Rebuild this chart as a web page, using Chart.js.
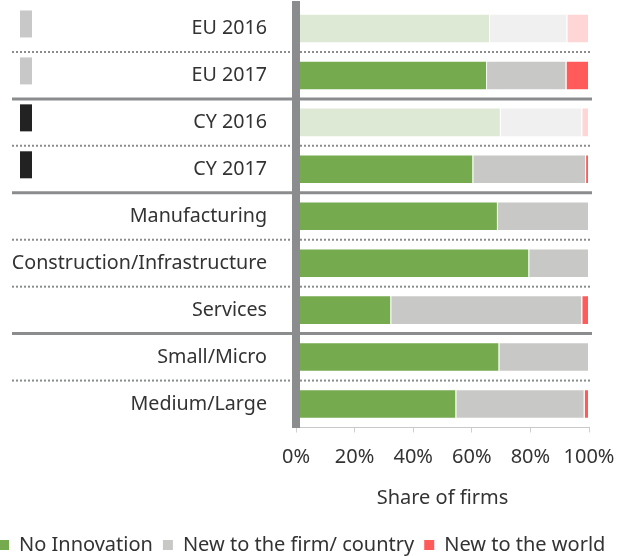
<!DOCTYPE html>
<html>
<head>
<meta charset="utf-8">
<script src="https://cdn.jsdelivr.net/npm/chart.js@4/dist/chart.umd.min.js"></script>
<style>
  html, body { margin: 0; padding: 0; background: #fff; }
  #wrap { width: 630px; height: 556px; }
</style>
</head>
<body>
<div id="wrap"><canvas id="myChart"></canvas></div>
<script>
// data (share of firms, %)
const categories = ['EU 2016', 'EU 2017', 'CY 2016', 'CY 2017', 'Manufacturing',
  'Construction/Infrastructure', 'Services', 'Small/Micro', 'Medium/Large'];
const noInnovation = [66.2, 65.2, 69.9, 60.5, 68.9, 79.6, 32.5, 69.4, 54.7];
const newToFirm = [26.4, 27.1, 27.8, 38.5, 31.1, 20.4, 65.2, 30.6, 43.8];
const newToWorld = [7.4, 7.7, 2.3, 1.0, 0, 0, 2.3, 0, 1.5];
const seriesNames = ['No Innovation', 'New to the firm/ country', 'New to the world'];
// 2016 rows are drawn faded
const faded = [true, false, true, false, false, false, false, false, false];
// little tag on the left of EU / CY rows
const rowTags = ['#c8c8c8', '#c8c8c8', '#222222', '#222222', null, null, null, null, null];
// row index after which a solid group line is drawn (dotted otherwise)
const groupEnds = [1, 3, 6];

const fullColors = ['#75aa4f', '#c8c8c6', '#ff5b5b'];
const fadedColors = ['#dde9d4', '#f0f0f0', '#ffd6d6'];
const FONT = 'Noto Sans';
const TEXT = '#333333';

function colorsFor(i) {
  return faded.map(f => f ? fadedColors[i] : fullColors[i]);
}

const separators = {
  id: 'separators',
  afterLayout(chart) {
    // legend in the original sits flush with the left edge
    if (chart.legend) {
      chart.legend.left -= 11;
      chart.legend.right -= 11;
    }
  },
  afterDatasetsDraw(chart) {
    const ctx = chart.ctx;
    const y = chart.scales.y;
    const right = chart.chartArea.right + 3;
    ctx.save();
    for (let i = 0; i < categories.length - 1; i++) {
      const yy = (y.getPixelForValue(i) + y.getPixelForValue(i + 1)) / 2;
      ctx.beginPath();
      if (groupEnds.includes(i)) {
        ctx.setLineDash([]);
        ctx.lineWidth = 3;
      } else {
        ctx.setLineDash([2, 2]);
        ctx.lineWidth = 2;
      }
      ctx.strokeStyle = '#8a8c8e';
      ctx.moveTo(12, yy);
      ctx.lineTo(right, yy);
      ctx.stroke();
    }
    ctx.setLineDash([]);
    rowTags.forEach((c, i) => {
      if (!c) return;
      const cy = y.getPixelForValue(i);
      ctx.fillStyle = c;
      ctx.fillRect(20, cy - 18, 12, 27);
    });
    ctx.restore();
  }
};

const ctx = document.getElementById('myChart').getContext('2d');

new Chart(ctx, {
  type: 'bar',
  data: {
    labels: categories,
    datasets: [noInnovation, newToFirm, newToWorld].map((d, i) => ({
      label: seriesNames[i],
      data: d,
      backgroundColor: colorsFor(i),
      borderColor: '#ffffff',
      borderWidth: 1,
      categoryPercentage: 1,
      barPercentage: 0.63,
    })),
  },
  options: {
    indexAxis: 'y',
    responsive: true,
    maintainAspectRatio: false,
    animation: false,
    layout: { padding: { top: 5, right: 0, left: 0, bottom: -9 } },
    scales: {
      x: {
        stacked: true,
        min: 0,
        max: 100,
        ticks: {
          stepSize: 20,
          padding: 13,
          color: TEXT,
          font: { family: FONT, size: 20 },
          callback: v => v + '%',
        },
        grid: { drawOnChartArea: false, drawTicks: true, tickLength: 5, color: '#cfcfcf' },
        border: { color: '#c8c8c8', width: 1 },
        title: {
          display: true,
          text: 'Share of firms',
          color: TEXT,
          font: { family: FONT, size: 20 },
          padding: { top: 0, bottom: 15 },
        },
        afterFit: scale => {
          scale.height = 97.5;
          scale.paddingLeft = 0;
          scale.paddingRight = 41;
        },
      },
      y: {
        stacked: true,
        ticks: {
          padding: -7,
          color: TEXT,
          font: { family: FONT, size: 19.7 },
        },
        grid: { display: false, drawTicks: true, tickLength: 36 },
        border: { color: '#8a8c8e', width: 8, z: 1 },
        afterFit: scale => { scale.width = 296; },
      },
    },
    plugins: {
      legend: {
        position: 'bottom',
        align: 'start',
        labels: {
          boxWidth: 10,
          boxHeight: 10,
          padding: 10,
          color: TEXT,
          font: { family: FONT, size: 20 },
          generateLabels: chart =>
            Chart.defaults.plugins.legend.labels.generateLabels(chart).map((l, i) => ({
              ...l, fillStyle: fullColors[i], strokeStyle: fullColors[i], lineWidth: 0,
            })),
        },
      },
      tooltip: { enabled: false },
    },
  },
  plugins: [separators],
});
</script>
</body>
</html>
